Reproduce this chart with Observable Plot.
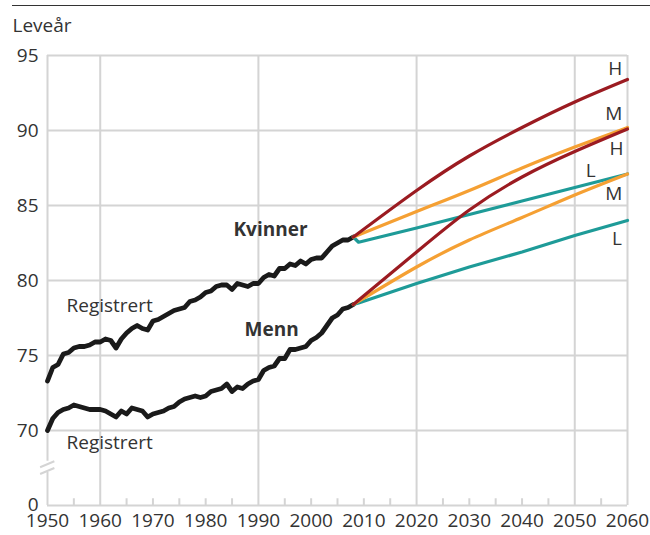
<!DOCTYPE html>
<html>
<head>
<meta charset="utf-8">
<script src="https://cdn.jsdelivr.net/npm/d3@7"></script>
<script src="https://cdn.jsdelivr.net/npm/@observablehq/plot@0.6"></script>
<style>
  html, body { margin: 0; padding: 0; background: #fff; }
  #wrap { position: relative; width: 650px; height: 535px; }
  #rule { position: absolute; top: 5px; left: 12px; width: 638px; border-top: 1.5px solid #333; }
  #chart { position: absolute; top: 0; left: 0; }
</style>
</head>
<body>
<div id="wrap"><div id="chart"></div><div id="rule"></div></div>
<script>
// ---- Data ----
const histYears = d3.range(1950, 2009);
const women = [73.3,74.2,74.4,75.1,75.2,75.5,75.6,75.6,75.7,75.9,
               75.9,76.1,76.0,75.5,76.1,76.5,76.8,77.0,76.8,76.7,
               77.3,77.4,77.6,77.8,78.0,78.1,78.2,78.6,78.7,78.9,
               79.2,79.3,79.6,79.7,79.7,79.4,79.8,79.7,79.6,79.8,
               79.8,80.2,80.4,80.3,80.8,80.8,81.1,81.0,81.3,81.1,
               81.4,81.5,81.5,81.9,82.3,82.5,82.7,82.7,82.9];
const men   = [70.0,70.8,71.2,71.4,71.5,71.7,71.6,71.5,71.4,71.4,
               71.4,71.3,71.1,70.9,71.3,71.1,71.5,71.4,71.3,70.9,
               71.1,71.2,71.3,71.5,71.6,71.9,72.1,72.2,72.3,72.2,
               72.3,72.6,72.7,72.8,73.1,72.6,72.9,72.8,73.1,73.3,
               73.4,74.0,74.2,74.3,74.8,74.8,75.4,75.4,75.5,75.6,
               76.0,76.2,76.5,77.0,77.5,77.7,78.1,78.2,78.4];

const projYears  = [2008, 2020, 2030, 2040, 2050, 2060];
const womenH = [82.9, 86.0, 88.3, 90.2, 91.9, 93.4];
const womenM = [82.9, 84.6, 86.0, 87.5, 88.9, 90.2];
const projYearsL = [2008, 2009, 2020, 2030, 2040, 2050, 2060];
const womenL = [82.9, 82.55, 83.5, 84.4, 85.3, 86.2, 87.1];
const menH = [78.4, 81.9, 84.7, 86.9, 88.6, 90.1];
const menM = [78.4, 80.9, 82.7, 84.2, 85.7, 87.1];
const menL = [78.4, 78.5, 79.8, 80.9, 81.9, 83.0, 84.0];

const xTicks = d3.range(1950, 2061, 10);
const xMinor = d3.range(1955, 2060, 5);
const xGrid = [1960, 1990, 2020, 2050];
const yTicks = [70, 75, 80, 85, 90, 95];
const yBreakLabel = "0";   // bottom of the broken axis

const colH = "#9b1b21", colM = "#f5a033", colL = "#1e9b98", grid = "#d4d4d4", ink = "#333";

// ---- Tables ----
const hist = [
  ...histYears.map((t, i) => ({year: t, v: women[i], sex: "K"})),
  ...histYears.map((t, i) => ({year: t, v: men[i], sex: "M"}))
];
const mk = (yrs, vals, sex) => yrs.map((t, i) => ({year: t, v: vals[i], sex}));
const projH = [...mk(projYears, womenH, "K"), ...mk(projYears, menH, "M")];
const projM = [...mk(projYears, womenM, "K"), ...mk(projYears, menM, "M")];
const projL = [...mk(projYearsL, womenL, "K"), ...mk(projYearsL, menL, "M")];

const txt = (x, y, text, opts = {}) =>
  Plot.text([{x, y, text}], {x: "x", y: "y", text: "text", fontSize: 19, fill: ink, ...opts});

const chart = Plot.plot({
  width: 650, height: 535,
  marginLeft: 47, marginRight: 23, marginTop: 55, marginBottom: 30,
  style: {fontFamily: "'Open Sans', sans-serif", fontSize: "19px", color: ink, background: "transparent", overflow: "visible"},
  x: {domain: [1950, 2060], ticks: xTicks, tickFormat: d => String(d), tickSize: 0, tickPadding: 8, label: null},
  y: {domain: [65, 95], ticks: yTicks, tickFormat: d => String(d), tickSize: 0, tickPadding: 9, label: null},
  marks: [
    Plot.ruleY(yTicks, {x1: 1950, x2: 2060, stroke: grid, strokeWidth: 2}),
    Plot.ruleY([65], {x1: 1950, x2: 2060, stroke: grid, strokeWidth: 2}),
    Plot.ruleX(xGrid, {y1: 65, y2: 95, stroke: grid, strokeWidth: 2}),
    Plot.ruleX([2060], {y1: 65, y2: 95, stroke: grid, strokeWidth: 2}),
    Plot.ruleX([1950], {y1: 67.95, y2: 95, stroke: grid, strokeWidth: 2}),
    Plot.ruleX([1950], {y1: 65, y2: 67.2, stroke: grid, strokeWidth: 2}),
    Plot.link([{x1: 1948.6, y1: 67.1, x2: 1951.3, y2: 67.5}, {x1: 1948.6, y1: 67.55, x2: 1951.3, y2: 67.95}],
      {x1: "x1", y1: "y1", x2: "x2", y2: "y2", stroke: grid, strokeWidth: 2}),
    Plot.ruleX(xMinor.filter(d => !xGrid.includes(d)), {y1: 65, y2: 65.45, stroke: grid, strokeWidth: 2}),
    Plot.line(hist, {x: "year", y: "v", z: "sex", stroke: "#1a1a1a", strokeWidth: 4.8, strokeLinejoin: "round", strokeLinecap: "round"}),
    Plot.line(projL, {x: "year", y: "v", z: "sex", stroke: colL, strokeWidth: 3.2}),
    Plot.line(projM, {x: "year", y: "v", z: "sex", stroke: colM, strokeWidth: 3.2, curve: "natural"}),
    Plot.line(projH, {x: "year", y: "v", z: "sex", stroke: colH, strokeWidth: 3.2, curve: "natural"}),
    txt(1953.6, 78.33, "Registrert", {textAnchor: "start"}),
    txt(1953.6, 69.2, "Registrert", {textAnchor: "start"}),
    txt(1992.3, 83.4, "Kvinner", {fontWeight: "bold"}),
    txt(1992.5, 76.7, "Menn", {fontWeight: "bold"}),
    txt(2057.7, 94.1, "H"),
    txt(2057.4, 91.1, "M"),
    txt(2057.9, 88.8, "H"),
    txt(2053.0, 87.3, "L"),
    txt(2057.4, 85.75, "M"),
    txt(2058.0, 82.75, "L"),
    Plot.text([yBreakLabel], {frameAnchor: "bottom-left", dx: -9, dy: 5, textAnchor: "end", lineAnchor: "bottom", fontSize: 19, fill: ink}),
    Plot.text(["Leveår"], {frameAnchor: "top-left", dx: -35, dy: -30, textAnchor: "start", lineAnchor: "middle", fontSize: 19, fill: ink})
  ]
});
document.getElementById("chart").appendChild(chart);
</script>
</body>
</html>
